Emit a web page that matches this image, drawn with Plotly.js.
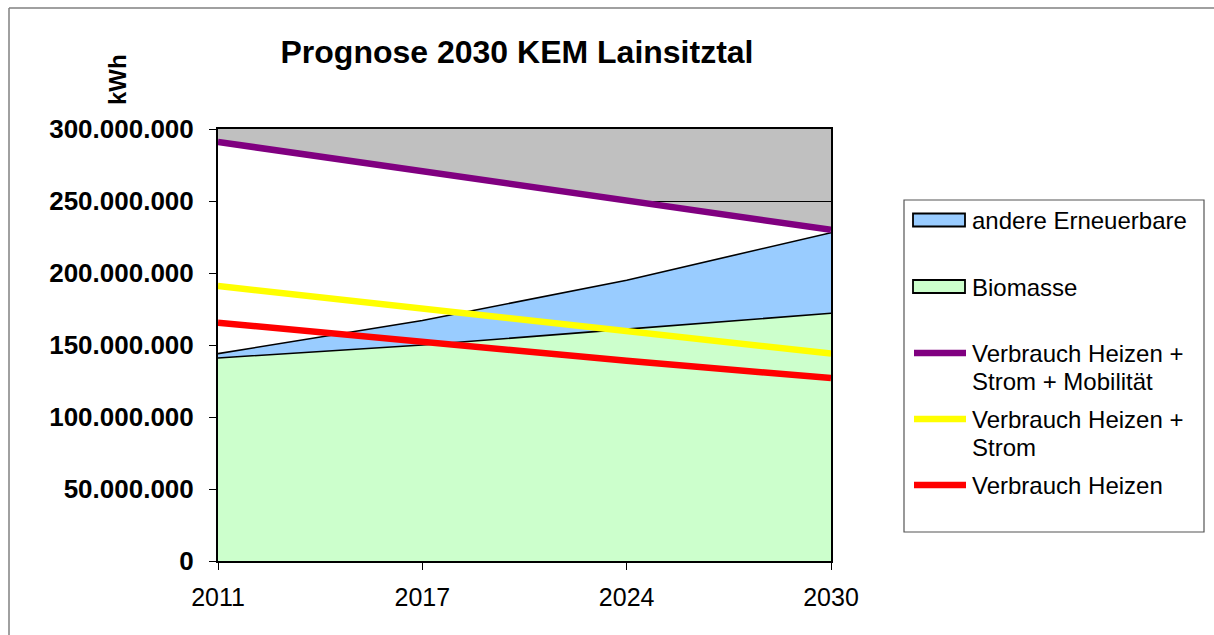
<!DOCTYPE html>
<html>
<head>
<meta charset="utf-8">
<script src="https://cdn.plot.ly/plotly-3.0.1.min.js"></script>
<style>
html,body{margin:0;padding:0;background:#fff;}
#chart{width:1214px;height:635px;}
</style>
</head>
<body>
<div id="chart"></div>
<script>
// ---- data ----
var years = ['2011', '2017', '2024', '2030'];
var biomasse = [141000000, 150000000, 161000000, 172000000];
var andereErneuerbare = [3000000, 17000000, 34000000, 56000000];
var verbrauchHeizenStromMobilitaet = [291000000, 271000000, 250000000, 230000000];
var verbrauchHeizenStrom = [191000000, 175000000, 160000000, 144000000];
var verbrauchHeizen = [165500000, 152000000, 139000000, 127000000];
var legendLabels = ['andere Erneuerbare', 'Biomasse', 'Verbrauch Heizen +', 'Strom + Mobilität', 'Verbrauch Heizen +', 'Strom', 'Verbrauch Heizen'];

var xIdx = years.map(function (_, i) { return i; });
var stackedTop = biomasse.map(function (v, i) { return v + andereErneuerbare[i]; });

// plot area in pixels
var L = 218, R = 831, T = 129, B = 561, W = 1214, H = 635;
function px(x) { return (x - L) / (R - L); }
function py(y) { return (B - y) / (B - T); }

var font = 'Liberation Sans, Arial, sans-serif';

var traces = [
  { x: xIdx, y: verbrauchHeizenStromMobilitaet, type: 'scatter', mode: 'lines', fill: 'tozeroy',
    fillcolor: '#FFFFFF', line: { width: 0, color: 'rgba(0,0,0,0)' }, showlegend: false, hoverinfo: 'skip' },
  { x: xIdx, y: biomasse, type: 'scatter', mode: 'lines', fill: 'tozeroy', name: 'Biomasse',
    fillcolor: '#CCFFCC', line: { width: 1.6, color: '#000000' }, showlegend: false },
  { x: xIdx, y: stackedTop, type: 'scatter', mode: 'lines', fill: 'tonexty', name: 'andere Erneuerbare',
    fillcolor: '#99CCFF', line: { width: 1.6, color: '#000000' }, showlegend: false },
  { x: xIdx, y: verbrauchHeizenStromMobilitaet, type: 'scatter', mode: 'lines', name: 'Verbrauch Heizen + Strom + Mobilität',
    line: { width: 6.5, color: '#800080' }, showlegend: false },
  { x: xIdx, y: verbrauchHeizenStrom, type: 'scatter', mode: 'lines', name: 'Verbrauch Heizen + Strom',
    line: { width: 6.5, color: '#FFFF00' }, showlegend: false },
  { x: xIdx, y: verbrauchHeizen, type: 'scatter', mode: 'lines', name: 'Verbrauch Heizen',
    line: { width: 6.5, color: '#FF0000' }, showlegend: false }
];

var shapes = [
  // outer chart border (left + top)
  { type: 'line', xref: 'paper', yref: 'paper', x0: px(9), x1: px(9), y0: py(8), y1: py(640), line: { color: '#808080', width: 1.5 } },
  { type: 'line', xref: 'paper', yref: 'paper', x0: px(9), x1: px(1220), y0: py(8), y1: py(8), line: { color: '#808080', width: 1.5 } },
  // legend box
  { type: 'rect', xref: 'paper', yref: 'paper', x0: px(904), x1: px(1204), y0: py(200), y1: py(532), line: { color: '#555555', width: 1.2 }, fillcolor: '#FFFFFF', layer: 'below' },
  // legend symbols
  { type: 'rect', xref: 'paper', yref: 'paper', x0: px(913), x1: px(965), y0: py(213.5), y1: py(226.5), line: { color: '#000000', width: 1.8 }, fillcolor: '#99CCFF' },
  { type: 'rect', xref: 'paper', yref: 'paper', x0: px(913), x1: px(965), y0: py(280), y1: py(293), line: { color: '#000000', width: 1.8 }, fillcolor: '#CCFFCC' },
  { type: 'line', xref: 'paper', yref: 'paper', x0: px(914), x1: px(966), y0: py(353), y1: py(353), line: { color: '#800080', width: 6.5 } },
  { type: 'line', xref: 'paper', yref: 'paper', x0: px(914), x1: px(966), y0: py(419), y1: py(419), line: { color: '#FFFF00', width: 6.5 } },
  { type: 'line', xref: 'paper', yref: 'paper', x0: px(914), x1: px(966), y0: py(485), y1: py(485), line: { color: '#FF0000', width: 6.5 } }
];

var legendY = [220, 287, 353, 381, 419, 447, 485];
var annotations = legendLabels.map(function (t, i) {
  return { text: t, xref: 'paper', yref: 'paper', x: px(970), y: py(legendY[i]), xanchor: 'left', yanchor: 'middle',
    showarrow: false, font: { family: font, size: 24, color: '#000000' } };
});
annotations.push({ text: '<b>kWh</b>', xref: 'paper', yref: 'paper', x: px(117), y: py(80), xanchor: 'center', yanchor: 'middle',
  textangle: -90, showarrow: false, font: { family: font, size: 24, color: '#000000' } });

var layout = {
  width: W, height: H,
  margin: { l: L, r: W - R, t: T, b: H - B, pad: 0 },
  paper_bgcolor: '#FFFFFF',
  plot_bgcolor: '#C0C0C0',
  separators: ',.',
  showlegend: false,
  title: { text: '<b>Prognose 2030 KEM Lainsitztal</b>', xref: 'paper', x: px(517), xanchor: 'center',
    yref: 'container', y: 1 - 52 / H, yanchor: 'middle', font: { family: font, size: 32, color: '#000000' } },
  xaxis: {
    range: [0, 3], tickmode: 'array', tickvals: xIdx, ticktext: years,
    showgrid: false, zeroline: false, showline: true, linecolor: '#000000', linewidth: 2, mirror: true,
    ticks: 'outside', ticklen: 7, tickcolor: '#000000', tickwidth: 1,
    ticklabelstandoff: 6,
    tickfont: { family: font, size: 25, color: '#000000' }, fixedrange: true
  },
  yaxis: {
    range: [0, 300000000], dtick: 50000000, tick0: 0, tickformat: ',.0f',
    showgrid: true, gridcolor: '#000000', gridwidth: 1, zeroline: false,
    showline: true, linecolor: '#000000', linewidth: 2, mirror: true,
    ticks: 'outside', ticklen: 7, tickcolor: '#000000', tickwidth: 1,
    ticklabelstandoff: 10,
    tickfont: { family: font, size: 26, color: '#000000', weight: 'bold' }, fixedrange: true
  },
  shapes: shapes,
  annotations: annotations
};

Plotly.newPlot('chart', traces, layout, { staticPlot: true, displayModeBar: false });
</script>
</body>
</html>
